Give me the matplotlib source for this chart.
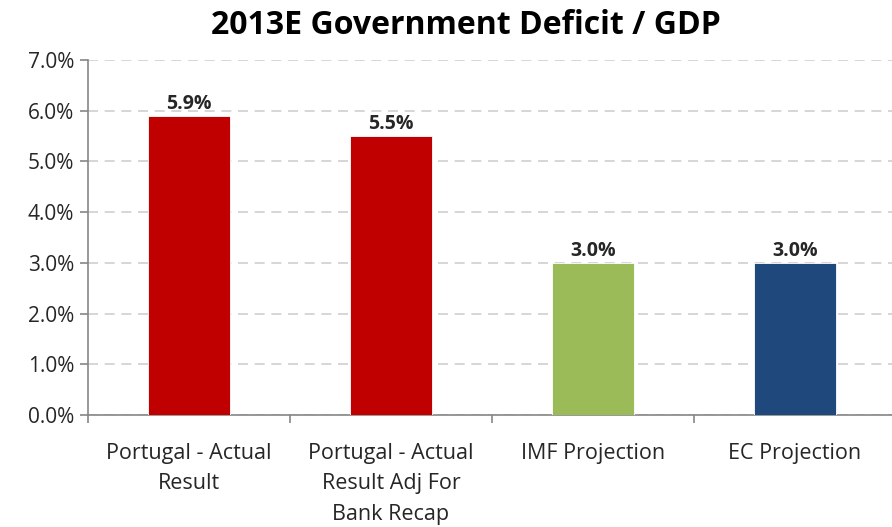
import matplotlib.pyplot as plt
from matplotlib.ticker import FuncFormatter, FixedLocator

categories = ["Portugal - Actual\nResult", "Portugal - Actual\nResult Adj For\nBank Recap",
              "IMF Projection", "EC Projection"]
values = [5.9, 5.5, 3.0, 3.0]
colors = ["#C00000", "#C00000", "#9BBB59", "#1F497D"]

plt.rcParams['font.family'] = ['Open Sans', 'DejaVu Sans']

fig = plt.figure(figsize=(8.92, 5.27), dpi=100)
ax = fig.add_axes([88 / 892, 1 - 415 / 527, (892 - 88) / 892, (415 - 60) / 527])

x = range(len(categories))
ax.bar(x, values, width=0.405, color=colors, edgecolor="white", linewidth=0.6, zorder=3)

for i, v in enumerate(values):
    ax.text(i, v + 0.04, f"{v:.1f}%", ha="center", va="bottom",
            fontsize=14, fontweight="bold", color="#262626")

ax.set_ylim(0, 7)
ax.set_xlim(-0.5, 3.48)
ax.set_yticks([i for i in range(8)])
ax.yaxis.set_major_formatter(FuncFormatter(lambda v, p: f"{v:.1f}%"))
ax.yaxis.grid(True, linestyle=(0, (6, 4)), color="#D0D0D0", linewidth=1.2, zorder=0)

ax.set_xticks(list(x))
ax.set_xticklabels(categories, fontsize=15.5, color="#262626", linespacing=1.6)
ax.xaxis.set_minor_locator(FixedLocator([-0.5, 0.5, 1.5, 2.5]))
ax.tick_params(axis="x", which="major", length=0, pad=20)
ax.tick_params(axis="x", which="minor", length=6, color="#868686", width=1.2)
ax.tick_params(axis="y", length=6, color="#868686", width=1.2, labelsize=15,
               labelcolor="#262626", pad=4)

for s in ["top", "right"]:
    ax.spines[s].set_visible(False)
for s in ["left", "bottom"]:
    ax.spines[s].set_color("#868686")
    ax.spines[s].set_linewidth(1.2)

fig.suptitle("2013E Government Deficit / GDP", x=0.522, y=0.982, fontsize=23,
             fontweight="bold", color="black")

fig.savefig("out.png", dpi=100)
